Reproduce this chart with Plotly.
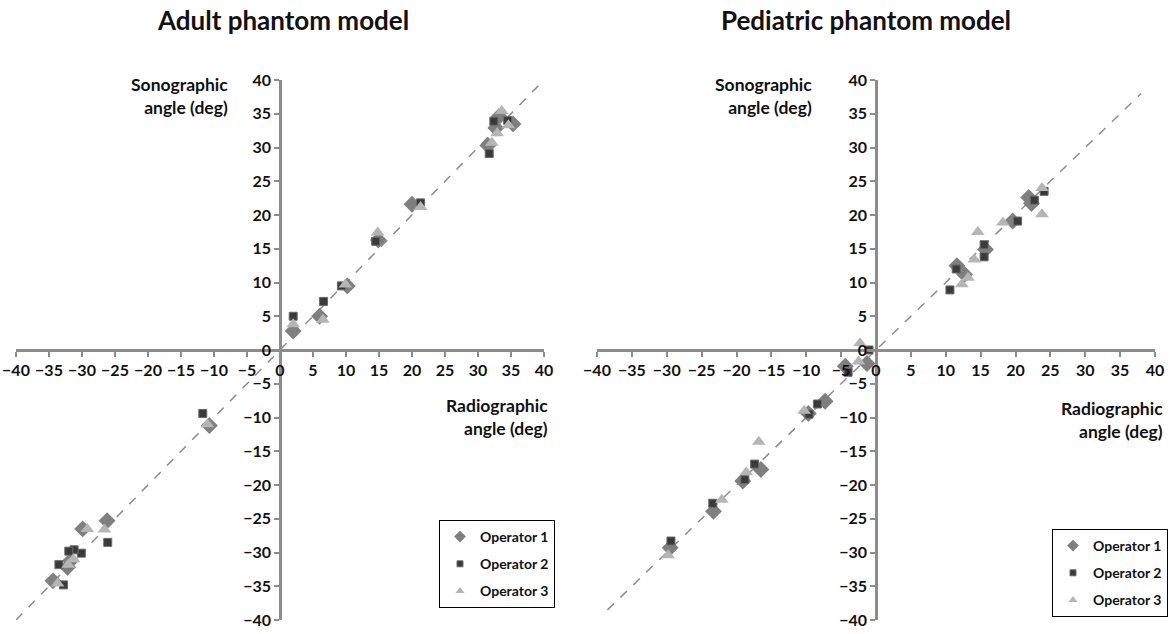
import plotly.graph_objects as go

# ---------------- data ----------------
ticks = [-40, -35, -30, -25, -20, -15, -10, -5, 0, 5, 10, 15, 20, 25, 30, 35, 40]
operators = ["Operator 1", "Operator 2", "Operator 3"]

adult_op1_x = [2.0, 6.0, 10.2, 14.9, 20.0, 31.5, 32.7, 33.2, 35.3, -10.7, -26.2, -29.9, -31.7, -32.2, -34.4]
adult_op1_y = [2.8, 5.0, 9.5, 16.3, 21.6, 30.3, 32.9, 34.6, 33.5, -11.2, -25.3, -26.5, -31.2, -32.2, -34.2]
adult_op2_x = [2.0, 6.6, 9.3, 14.5, 21.3, 31.7, 32.4, 34.5, -11.7, -26.1, -30.1, -31.2, -32.0, -33.5, -32.8]
adult_op2_y = [5.0, 7.2, 9.5, 16.1, 21.8, 29.1, 33.9, 34.0, -9.4, -28.5, -30.1, -29.6, -29.8, -31.8, -34.8]
adult_op3_x = [2.0, 6.5, 9.9, 14.8, 21.3, 32.1, 32.9, 33.6, 34.6, -11.0, -26.6, -29.2, -31.3, -32.1, -33.7]
adult_op3_y = [3.8, 4.5, 9.7, 17.4, 21.2, 30.7, 32.1, 35.4, 33.3, -11.0, -26.6, -26.5, -31.0, -31.8, -34.6]

ped_op1_x = [11.6, 12.7, 15.7, 19.6, 21.9, 22.3, -1.3, -4.4, -7.3, -9.7, -16.5, -19.1, -23.3, -29.5]
ped_op1_y = [12.5, 11.2, 14.9, 19.1, 22.6, 21.7, -2.0, -2.4, -7.6, -9.4, -17.7, -19.4, -23.9, -29.3]
ped_op2_x = [10.6, 11.5, 15.5, 15.5, 20.3, 22.7, 24.1, -1.0, -4.0, -8.4, -9.6, -17.4, -18.8, -23.4, -29.4]
ped_op2_y = [8.9, 12.0, 15.6, 13.8, 19.1, 22.2, 23.5, 0.0, -3.3, -8.0, -9.5, -16.9, -19.2, -22.7, -28.3]
ped_op3_x = [12.3, 13.2, 14.1, 14.6, 18.2, 23.8, 23.8, -2.3, -2.5, -10.3, -16.8, -18.6, -22.1, -29.8]
ped_op3_y = [9.75, 10.7, 13.4, 17.5, 18.9, 24.0, 20.1, 1.0, -1.7, -9.0, -13.6, -18.1, -22.2, -30.4]

# identity (y = x) reference line extents
adult_line = [-40, 39.5]
ped_line = [-38.5, 38]

# ---------------- styling ----------------
FONT = "Lato"
AXIS_GREY = "#8c8c8c"
styles = [
    dict(symbol="diamond", size=13, color="#7f7f7f", line=dict(width=0)),
    dict(symbol="square", size=8, color="#3a3a3a", line=dict(width=1, color="#6a6a6a")),
    dict(symbol="triangle-up", size=12, color="#b5b5b5", line=dict(width=0)),
]
legend_styles = [
    dict(symbol="diamond", size=9, color="#7f7f7f", line=dict(width=0)),
    dict(symbol="square", size=6, color="#3a3a3a", line=dict(width=1, color="#6a6a6a")),
    dict(symbol="triangle-up", size=8, color="#b5b5b5", line=dict(width=0)),
]

fig = go.Figure()

panels = [
    ("x", "y", "legend", adult_line,
     [(adult_op1_x, adult_op1_y), (adult_op2_x, adult_op2_y), (adult_op3_x, adult_op3_y)]),
    ("x2", "y2", "legend2", ped_line,
     [(ped_op1_x, ped_op1_y), (ped_op2_x, ped_op2_y), (ped_op3_x, ped_op3_y)]),
]

for xa, ya, lg, line, series in panels:
    fig.add_trace(go.Scatter(
        x=line, y=line, mode="lines", xaxis=xa, yaxis=ya, showlegend=False,
        line=dict(color=AXIS_GREY, width=1.5, dash="dash"), hoverinfo="skip"))
    for i, (sx, sy) in enumerate(series):
        fig.add_trace(go.Scatter(
            x=sx, y=sy, mode="markers", name=operators[i], xaxis=xa, yaxis=ya,
            showlegend=False, marker=styles[i]))
    # legend entries (smaller symbols, as in the original legend)
    for i in range(3):
        fig.add_trace(go.Scatter(
            x=[None], y=[None], mode="markers", name=operators[i], xaxis=xa, yaxis=ya,
            legend=lg, legendgroup=f"{lg}{i}", marker=legend_styles[i]))

W, H = 1175, 634
xdom_l = [16 / W, 544 / W]
xdom_r = [597 / W, 1155 / W]
ydom = [1 - 620 / H, 1 - 80 / H]
ymid = (ydom[0] + ydom[1]) / 2

tickfont = dict(family=FONT, size=16, color="#111111", weight="bold")
common_x = dict(range=[-40, 40], tickvals=ticks, showgrid=False, zeroline=False,
                showline=True, linecolor=AXIS_GREY, linewidth=2.5, ticks="outside",
                ticklen=5, tickwidth=2, tickcolor=AXIS_GREY, tickfont=tickfont,
                anchor="free", position=ymid, fixedrange=True, automargin=False)
common_y = dict(range=[-40, 40], tickvals=ticks, showgrid=False, zeroline=False,
                showline=True, linecolor=AXIS_GREY, linewidth=2.5, ticks="outside",
                ticklen=5, tickwidth=2, tickcolor=AXIS_GREY, tickfont=tickfont,
                anchor="free", domain=ydom, fixedrange=True, automargin=False)

legend_common = dict(yanchor="top", xanchor="right", bordercolor="#000000", borderwidth=1,
                     bgcolor="white", font=dict(family=FONT, size=14, weight="bold", color="#111111"),
                     tracegroupgap=6, itemwidth=30)

fig.update_layout(
    width=W, height=H,
    margin=dict(l=0, r=0, t=0, b=0, autoexpand=False),
    paper_bgcolor="white", plot_bgcolor="white",
    font=dict(family=FONT, color="#111111"),
    xaxis=dict(domain=xdom_l, **common_x),
    yaxis=dict(position=sum(xdom_l) / 2, **common_y),
    xaxis2=dict(domain=xdom_r, **common_x),
    yaxis2=dict(position=sum(xdom_r) / 2, **common_y),
    legend=dict(x=555 / W, y=1 - 520 / H, **legend_common),
    legend2=dict(x=1168 / W, y=1 - 529 / H, **legend_common),
    showlegend=True,
)

ann_font = dict(family=FONT, size=17.5, color="#111111", weight="bold")
title_font = dict(family=FONT, size=26, color="#111111", weight="bold")
annotations = [
    dict(text="Adult phantom model", x=283 / W, y=1 - 20 / H, font=title_font),
    dict(text="Pediatric phantom model", x=866 / W, y=1 - 20 / H, font=title_font),
    dict(text="Sonographic<br>angle (deg)", x=230 / W, y=1 - 96 / H, xanchor="right", align="right", font=ann_font),
    dict(text="Sonographic<br>angle (deg)", x=814 / W, y=1 - 96 / H, xanchor="right", align="right", font=ann_font),
    dict(text="Radiographic<br>angle (deg)", x=550 / W, y=1 - 417 / H, xanchor="right", align="right", font=ann_font),
    dict(text="Radiographic<br>angle (deg)", x=1165 / W, y=1 - 420 / H, xanchor="right", align="right", font=ann_font),
]
for a in annotations:
    a.update(xref="paper", yref="paper", showarrow=False)
    a.setdefault("xanchor", "center")
    a.setdefault("yanchor", "middle")
fig.update_layout(annotations=annotations)

fig.write_html("out.html", config={"displayModeBar": False},
               post_script="document.body.style.margin='0';document.body.style.overflow='hidden';")
